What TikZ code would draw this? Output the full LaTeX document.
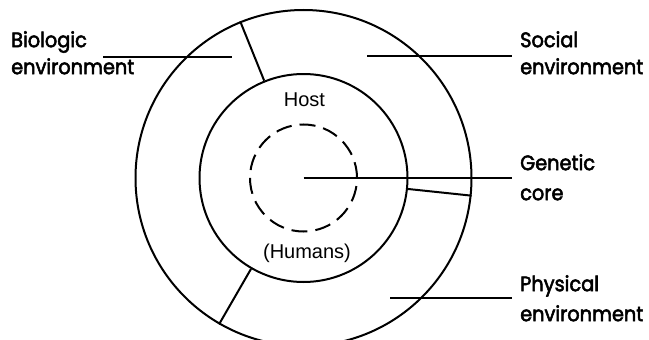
\documentclass[tikz,border=0pt]{standalone}
\usepackage{fontspec}
\usepackage{tikz}
\usetikzlibrary{positioning}
\newfontfamily\labfont{Poppins}[FakeBold=2.5,FakeStretch=0.92]
\newfontfamily\hostfont{Liberation Sans}

\begin{document}
\begin{tikzpicture}[x=1pt,y=-1pt]\begin{scope}[
    ring/.style={circle, draw, line width=2pt, inner sep=0pt},
    lead/.style={line width=2pt},
    lab/.style={font=\labfont\fontsize{21}{27}\selectfont, align=left, inner sep=0pt, anchor=north west},
    hlab/.style={font=\hostfont\fontsize{20}{24}\selectfont, inner sep=0pt, anchor=base}
]
\useasboundingbox (0,0) rectangle (649,340);
\clip (0,0) rectangle (649,340);
% Rings: environment, host, genetic core
\node[ring, minimum size=336pt] (outer) at (303.5,178) {};
\node[ring, minimum size=208pt] (host) at (303.5,178) {};
\node[ring, minimum size=107pt, dash pattern=on 16pt off 8pt] (core) at (303.5,178) {};
\node[hlab] (hostlab) at (304.5,106) {Host};
\node[hlab] (humlab) at (307,258) {(Humans)};
% Sectors of the outer ring
\draw[lead] (host.112) -- (outer.112);
\draw[lead] (host.240.6) -- (outer.240.6);
\draw[lead] (host.-6.5) -- (outer.-6.5);
% Labels
\node[lab] (bio) at (11,31) {Biologic\\environment};
\node[lab] (soc) at (520,31) {Social\\environment};
\node[lab] (gen) at (520,154) {Genetic\\[3pt]core};
\node[lab] (phy) at (520,275) {Physical\\[3pt]environment};
\coordinate (biopt) at (103,57);
\coordinate (bioend) at (232,57);
\coordinate (socpt) at (367,56);
\coordinate (phypt) at (390,298);
\draw[lead] (biopt) -- (bioend);
\draw[lead] (socpt) -- ([xshift=-8pt]socpt -| soc.west);
\draw[lead] (core.center) -- ([xshift=-8pt]core.center -| gen.west);
\draw[lead] (phypt) -- ([xshift=-8pt]phypt -| phy.west);\end{scope}
\end{tikzpicture}
\end{document}
